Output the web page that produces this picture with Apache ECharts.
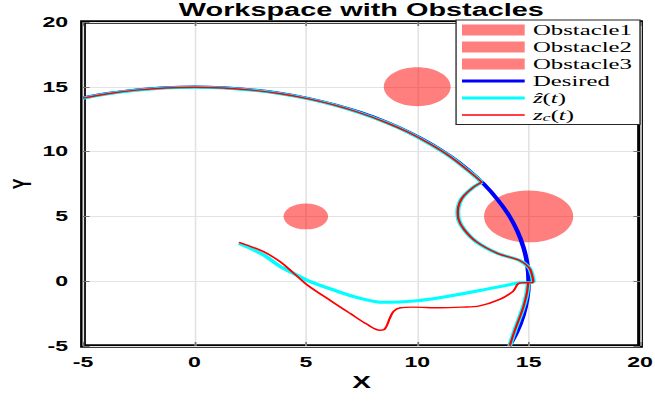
<!DOCTYPE html>
<html>
<head>
<meta charset="utf-8">
<script src="https://cdn.jsdelivr.net/npm/echarts@6/dist/echarts.min.js"></script>
<style>
html,body{margin:0;padding:0;background:#fff;overflow:hidden;width:655px;height:401px;}
#chart{width:397px;height:401px;transform:scaleX(1.65);transform-origin:0 0;}
</style>
</head>
<body>
<div id="chart"></div>
<script>
// ---- tick labels ----
const xTickLabels = [-5, 0, 5, 10, 15, 20];
const yTickLabels = [-5, 0, 5, 10, 15, 20];

// ---- obstacles: [centerX, centerY, radius] ----
const obstacleNames = ['Obstacle1', 'Obstacle2', 'Obstacle3'];
const obstacle1 = [[5, 5, 1]];
const obstacle2 = [[10, 15, 1.5]];
const obstacle3 = [[15, 5, 2]];

// ---- desired trajectory ----
const desiredPath = [
  [-5.0,14.14],[-3.88,14.49],[-2.60,14.77],[-1.31,14.94],[0,15.0],[1.31,14.94],
  [2.60,14.77],[3.88,14.49],[5.13,14.10],[6.34,13.59],[7.50,12.99],[8.60,12.29],
  [9.64,11.49],[10.61,10.61],[11.49,9.64],[12.29,8.60],[12.99,7.50],[13.59,6.34],
  [14.10,5.13],[14.49,3.88],[14.77,2.60],[14.94,1.31],[15.0,0],[14.94,-1.31],
  [14.77,-2.60],[14.49,-3.88],[14.14,-5.0]
];

// ---- estimated state z-hat(t): first part from start point ----
const zhatLower = [
  [2.0,2.92],[3.1,2.03],[3.85,1.13],[4.45,0.6],[5.05,0.08],[6.2,-0.65],[7.4,-1.3],
  [8.5,-1.63],[10.0,-1.5],[11.0,-1.28],[12.8,-0.72],[14.0,-0.32],[14.6,-0.12],[15.22,-0.1]
];
// ---- closed-loop state z_c(t): first part from start point ----
const zcLower = [
  [2.0,3.0],[3.1,2.28],[3.85,1.5],[4.45,0.63],[5.05,-0.27],[6.2,-1.6],[7.0,-2.5],
  [7.75,-3.33],[8.33,-3.78],[8.55,-3.68],[8.78,-2.82],[8.95,-2.3],[9.25,-2.05],
  [9.8,-2.0],[11.0,-2.05],[12.0,-2.0],[12.8,-1.9],[13.7,-1.4],[14.3,-0.78],[14.6,-0.14],[15.22,-0.1]
];
// ---- shared parts of both trajectories ----
const avoidPath = [
  [15.22,-0.1],[15.15,0.5],[15.02,1.05],[14.6,1.6],[13.6,2.15],[12.65,3.05],
  [12.1,4.0],[11.85,4.8],[11.82,5.4],[11.9,6.05],[12.1,6.6],[12.5,7.22],[12.9,7.65]
];
const arcPath = [
  [12.9,7.65],[12.26,8.57],[11.47,9.62],[10.58,10.58],[9.62,11.47],[8.58,12.26],
  [7.48,12.96],[6.33,13.57],[5.12,14.07],[3.87,14.46],[2.6,14.74],[1.3,14.91],
  [0,14.97],[-1.3,14.91],[-2.6,14.74],[-3.87,14.46],[-5.0,14.12]
];
const tailPath = [
  [14.15,-5.0],[14.4,-3.7],[14.62,-2.7],[14.78,-1.9],[14.9,-1.1],[14.96,-0.5],[14.98,-0.05]
];

const OBST_COLOR = 'rgba(255,0,0,0.5)';
const ZHAT = 'ẑ(t)';
const ZC = 'z_c(t)';

function obstacleSeries(name, data) {
  return {
    name: name, type: 'custom', coordinateSystem: 'cartesian2d',
    data: data, encode: {x: 0, y: 1},
    itemStyle: {color: OBST_COLOR},
    renderItem: function (params, api) {
      const c = api.coord([api.value(0), api.value(1)]);
      const s = api.size([api.value(2), api.value(2)]);
      return {type: 'ellipse', shape: {cx: c[0], cy: c[1], rx: s[0], ry: s[1]},
              style: {fill: OBST_COLOR}};
    }
  };
}
function lineSeries(name, data, color, width) {
  return {
    name: name, type: 'line', data: data, symbol: 'none', smooth: 0.35,
    lineStyle: {color: color, width: width}, itemStyle: {color: color},
    clip: true, animation: false
  };
}

const xMin = xTickLabels[0], xMax = xTickLabels[xTickLabels.length - 1];
const yMin = yTickLabels[0], yMax = yTickLabels[yTickLabels.length - 1];
const xInt = xTickLabels[1] - xTickLabels[0];
const yInt = yTickLabels[1] - yTickLabels[0];

const SANS = 'Liberation Sans';
const SERIF = 'Liberation Serif';
const tickFont = {fontFamily: SANS, fontWeight: 'bold', fontSize: 14, color: '#000'};
const tickStyle = {show: true, inside: true, length: 4, lineStyle: {color: '#777', width: 1}};

const chart = echarts.init(document.getElementById('chart'), null, {renderer: 'svg', width: 397, height: 401});
chart.setOption({
  animation: false,
  backgroundColor: '#fff',
  title: {
    text: 'Workspace with Obstacles', left: 219, top: 1, textAlign: 'center', padding: 0,
    textStyle: {fontFamily: SANS, fontWeight: 'bold', fontSize: 17.5, color: '#000'}
  },
  grid: {left: 50.3, right: 9.1, top: 22, bottom: 55, show: true,
         containLabel: false, outerBoundsMode: 'none',
         borderColor: '#000', borderWidth: 3.5, backgroundColor: 'transparent'},
  legend: {
    orient: 'vertical', left: 276.4, top: 20,
    itemWidth: 38, itemHeight: 11, itemGap: 2,
    symbolKeepAspect: true,
    padding: [2.5, 4.9, 2, 3.6],
    backgroundColor: '#fff', borderColor: '#262626', borderWidth: 0.8, borderRadius: 0,
    data: [
      {name: 'Obstacle1', icon: 'rect'}, {name: 'Obstacle2', icon: 'rect'},
      {name: 'Obstacle3', icon: 'rect'},
      {name: 'Desired', icon: 'path://M0,0H38V3H0Z'},
      {name: ZHAT, icon: 'path://M0,0H38V3H0Z'},
      {name: ZC, icon: 'path://M0,0H38V1.5H0Z'}
    ],
    textStyle: {
      fontFamily: SERIF, fontSize: 15, color: '#000',
      rich: {
        i: {fontFamily: SERIF, fontStyle: 'italic', fontSize: 15, lineHeight: 15, color: '#000'},
        r: {fontFamily: SERIF, fontSize: 15, lineHeight: 15, color: '#000'},
        s: {fontFamily: SERIF, fontStyle: 'italic', fontSize: 11, lineHeight: 4, verticalAlign: 'bottom', color: '#000'}
      }
    },
    formatter: function (name) {
      if (name === ZHAT) return '{i|ẑ}{r|(}{i|t}{r|)}';
      if (name === ZC) return '{i|z}{s|c}{r|(}{i|t}{r|)}';
      return name;
    }
  },
  xAxis: [{
    type: 'value', min: xMin, max: xMax, interval: xInt,
    name: 'X', nameLocation: 'middle', nameGap: 28, nameMoveOverlap: false,
    nameTextStyle: {fontFamily: SANS, fontWeight: 'bold', fontSize: 17, color: '#000'},
    axisLine: {show: false, onZero: false},
    axisTick: tickStyle,
    axisLabel: Object.assign({margin: 9}, tickFont),
    splitLine: {show: true, lineStyle: {color: '#e3e3e3', width: 1}}
  }, {
    type: 'value', position: 'top', min: xMin, max: xMax, interval: xInt,
    axisLine: {show: false, onZero: false}, axisLabel: {show: false}, splitLine: {show: false},
    axisTick: tickStyle
  }],
  yAxis: [{
    type: 'value', min: yMin, max: yMax, interval: yInt,
    name: 'Y', nameLocation: 'middle', nameGap: 29, nameMoveOverlap: false,
    nameTextStyle: {fontFamily: SANS, fontWeight: 'bold', fontSize: 16, color: '#000'},
    axisLine: {show: false, onZero: false},
    axisTick: tickStyle,
    axisLabel: Object.assign({margin: 9}, tickFont),
    splitLine: {show: true, lineStyle: {color: '#e3e3e3', width: 1}}
  }, {
    type: 'value', position: 'right', min: yMin, max: yMax, interval: yInt,
    axisLine: {show: false, onZero: false}, axisLabel: {show: false}, splitLine: {show: false},
    axisTick: tickStyle
  }],
  series: [
    obstacleSeries(obstacleNames[0], obstacle1),
    obstacleSeries(obstacleNames[1], obstacle2),
    obstacleSeries(obstacleNames[2], obstacle3),
    lineSeries('Desired', desiredPath, '#0000ff', 2.8),
    lineSeries(ZHAT, zhatLower, '#00ffff', 3),
    lineSeries(ZHAT, avoidPath, '#00ffff', 3),
    lineSeries(ZHAT, arcPath, '#00ffff', 3),
    lineSeries(ZHAT, tailPath, '#00ffff', 3),
    lineSeries(ZC, zcLower, '#ff0000', 1.4),
    lineSeries(ZC, avoidPath, '#ff0000', 1.4),
    lineSeries(ZC, arcPath, '#ff0000', 1.4),
    lineSeries(ZC, tailPath, '#ff0000', 1.4)
  ]
});
</script>
</body>
</html>
